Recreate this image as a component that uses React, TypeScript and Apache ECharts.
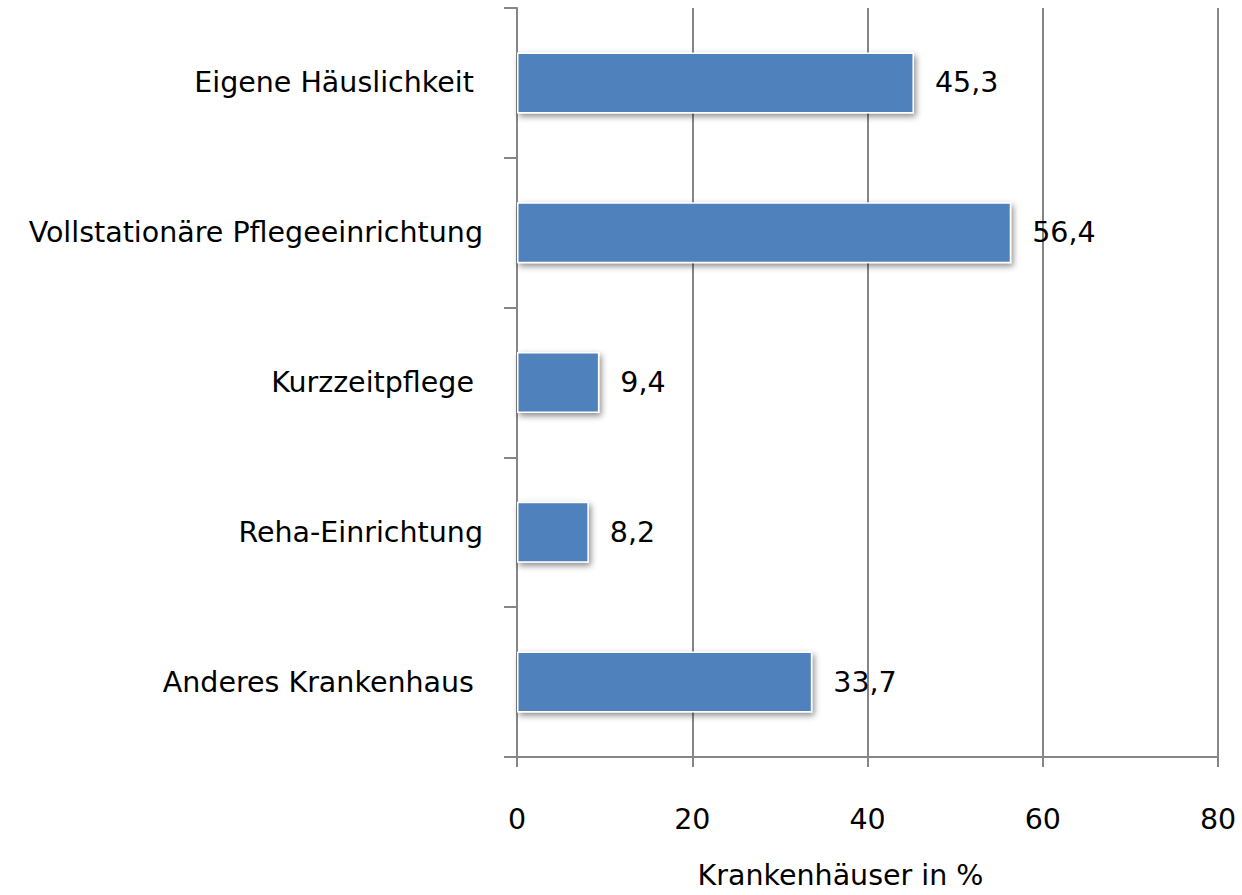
import React, { useEffect, useRef } from "react";
import * as echarts from "echarts";

const categories = [
  "Eigene Häuslichkeit ",
  "Vollstationäre Pflegeeinrichtung",
  "Kurzzeitpflege ",
  "Reha-Einrichtung",
  "Anderes Krankenhaus ",
];
const values = [45.3, 56.4, 9.4, 8.2, 33.7];
const xTicks = { min: 0, max: 80, interval: 20 };
const axisTitle = "Krankenhäuser in %";

export default function App() {
  const ref = useRef<HTMLDivElement>(null);
  useEffect(() => {
    if (!ref.current) return;
    const chart = echarts.init(ref.current, undefined, { renderer: "svg" });
    const font = "'DejaVu Sans', sans-serif";
    const fs = 28.5;
    chart.setOption({
      animation: false,
      grid: { left: 517, right: 24, top: 8, bottom: 131, containLabel: false },
      xAxis: {
        type: "value",
        min: xTicks.min,
        max: xTicks.max,
        interval: xTicks.interval,
        name: axisTitle,
        nameLocation: "middle",
        nameGap: 104,
        nameTextStyle: { fontFamily: font, fontSize: fs, color: "#000", padding: [0, 54, 0, 0] },
        axisLine: { show: true, lineStyle: { color: "#868686", width: 2 } },
        axisTick: { show: true, length: 10, lineStyle: { color: "#868686", width: 2 } },
        axisLabel: { fontFamily: font, fontSize: fs, color: "#000", margin: 48 },
        splitLine: { show: true, lineStyle: { color: "#868686", width: 2 } },
      },
      yAxis: {
        type: "category",
        data: categories,
        inverse: true,
        axisLine: { show: true, lineStyle: { color: "#868686", width: 2 } },
        axisTick: { show: true, length: 13, lineStyle: { color: "#868686", width: 2 } },
        axisLabel: { fontFamily: font, fontSize: fs, color: "#000", margin: 34 },
        splitLine: { show: false },
      },
      series: [
        {
          type: "bar",
          data: values,
          barWidth: 61,
          itemStyle: {
            color: "#4F81BD",
            borderColor: "#ffffff",
            borderWidth: 1.5,
            shadowColor: "rgba(0,0,0,0.45)",
            shadowBlur: 6,
            shadowOffsetX: 2,
            shadowOffsetY: 3,
          },
          label: {
            show: true,
            position: "right",
            distance: 21,
            fontFamily: font,
            fontSize: fs,
            color: "#000",
            formatter: (p: any) => String(p.value).replace(".", ","),
          },
        },
      ],
    });
    return () => chart.dispose();
  }, []);
  return (
    <div
      ref={ref}
      style={{ position: "fixed", left: 0, top: 0, width: 1242, height: 895, background: "#fff" }}
    />
  );
}
